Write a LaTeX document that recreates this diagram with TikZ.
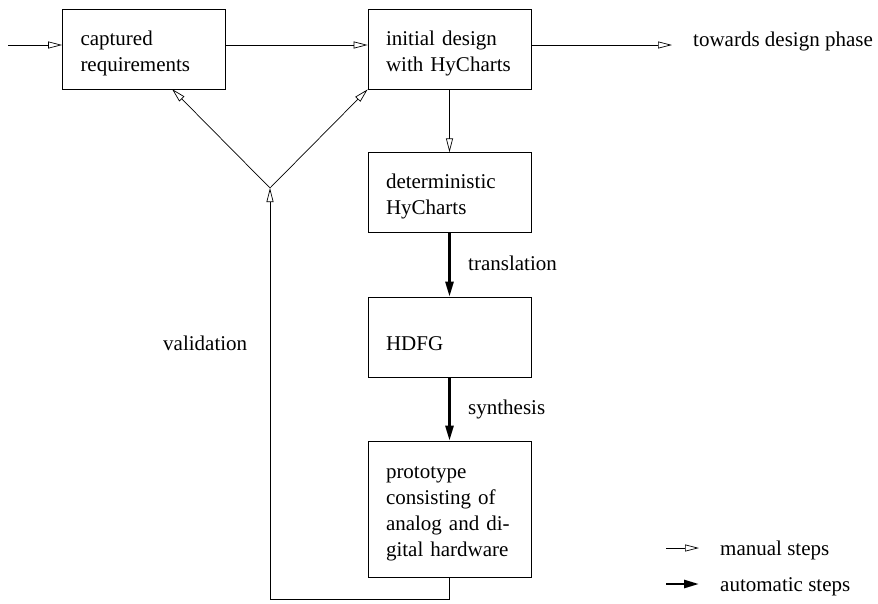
\documentclass[tikz,border=0pt]{standalone}
\usepackage{fontspec}
\setmainfont{Liberation Serif}
\usetikzlibrary{arrows.meta}
\tikzset{
  phase/.style={draw, line width=0.7pt, minimum width=163pt, minimum height=80pt,
    text width=127pt, align=left, inner sep=0pt, text height=0pt, text depth=8pt},
  note/.style={anchor=base west, inner sep=0pt},
  manual/.style={line width=0.7pt, -{Triangle[open, length=14pt, width=7pt]}},
  automatic/.style={line width=2.6pt, -{Triangle[length=15pt, width=8pt]}},
}
\begin{document}
\begin{tikzpicture}[x=1pt, y=-1pt, font=\fontsize{21}{26}\selectfont]
        \useasboundingbox (0,0) rectangle (878,603);

        \node [phase] (req) at (144,49) {captured\\requirements};
        \node [phase] (init) at (449.5,49) {initial design\\with HyCharts};
        \node [phase] (det) at (449.5,192.7) {deterministic\\HyCharts};
        \node [phase, text height=27.4pt, text depth=0pt] (hdfg) at (449.5,337) {HDFG};
        \node [phase, minimum height=136pt, text depth=62pt] (proto) at (449.5,509)
          {prototype\\consisting of\\analog and di-\\gital hardware};

        \coordinate (in) at (8,45);
        \coordinate (out) at (672,45);
        \coordinate (fork) at (270,188);
        \coordinate (reqin) at (172,89);
        \node [note] (towards) at (693,46) {towards design phase};
        \node [note] (translation) at (468,270) {translation};
        \node [note] (synthesis) at (468,414) {synthesis};
        \node [note] (validation) at (163,350) {validation};

        \draw [manual] (in) -- (in -| req.west);
        \draw [manual] (req.east |- in) -- (init.west |- in);
        \draw [manual] (init.east |- in) -- (out);
        \draw [manual] (init) -- (det);
        \draw [automatic] (det) -- (hdfg);
        \draw [automatic] (hdfg) -- (proto);
        \draw [manual] (proto.south) -- ++(0,22) -| (fork);
        \draw [manual] (fork) -- (reqin);
        \draw [manual] (fork) -- (init.south west);

        \coordinate (m1) at (666,548);
        \coordinate (m2) at (699,548);
        \coordinate (a1) at (666,584);
        \coordinate (a2) at (699,584);
        \draw [manual] (m1) -- (m2);
        \draw [automatic] (a1) -- (a2);
        \node [note] (manlabel) at (720,555) {manual steps};
        \node [note] (autolabel) at (720,591) {automatic steps};
      \end{tikzpicture}
\end{document}
